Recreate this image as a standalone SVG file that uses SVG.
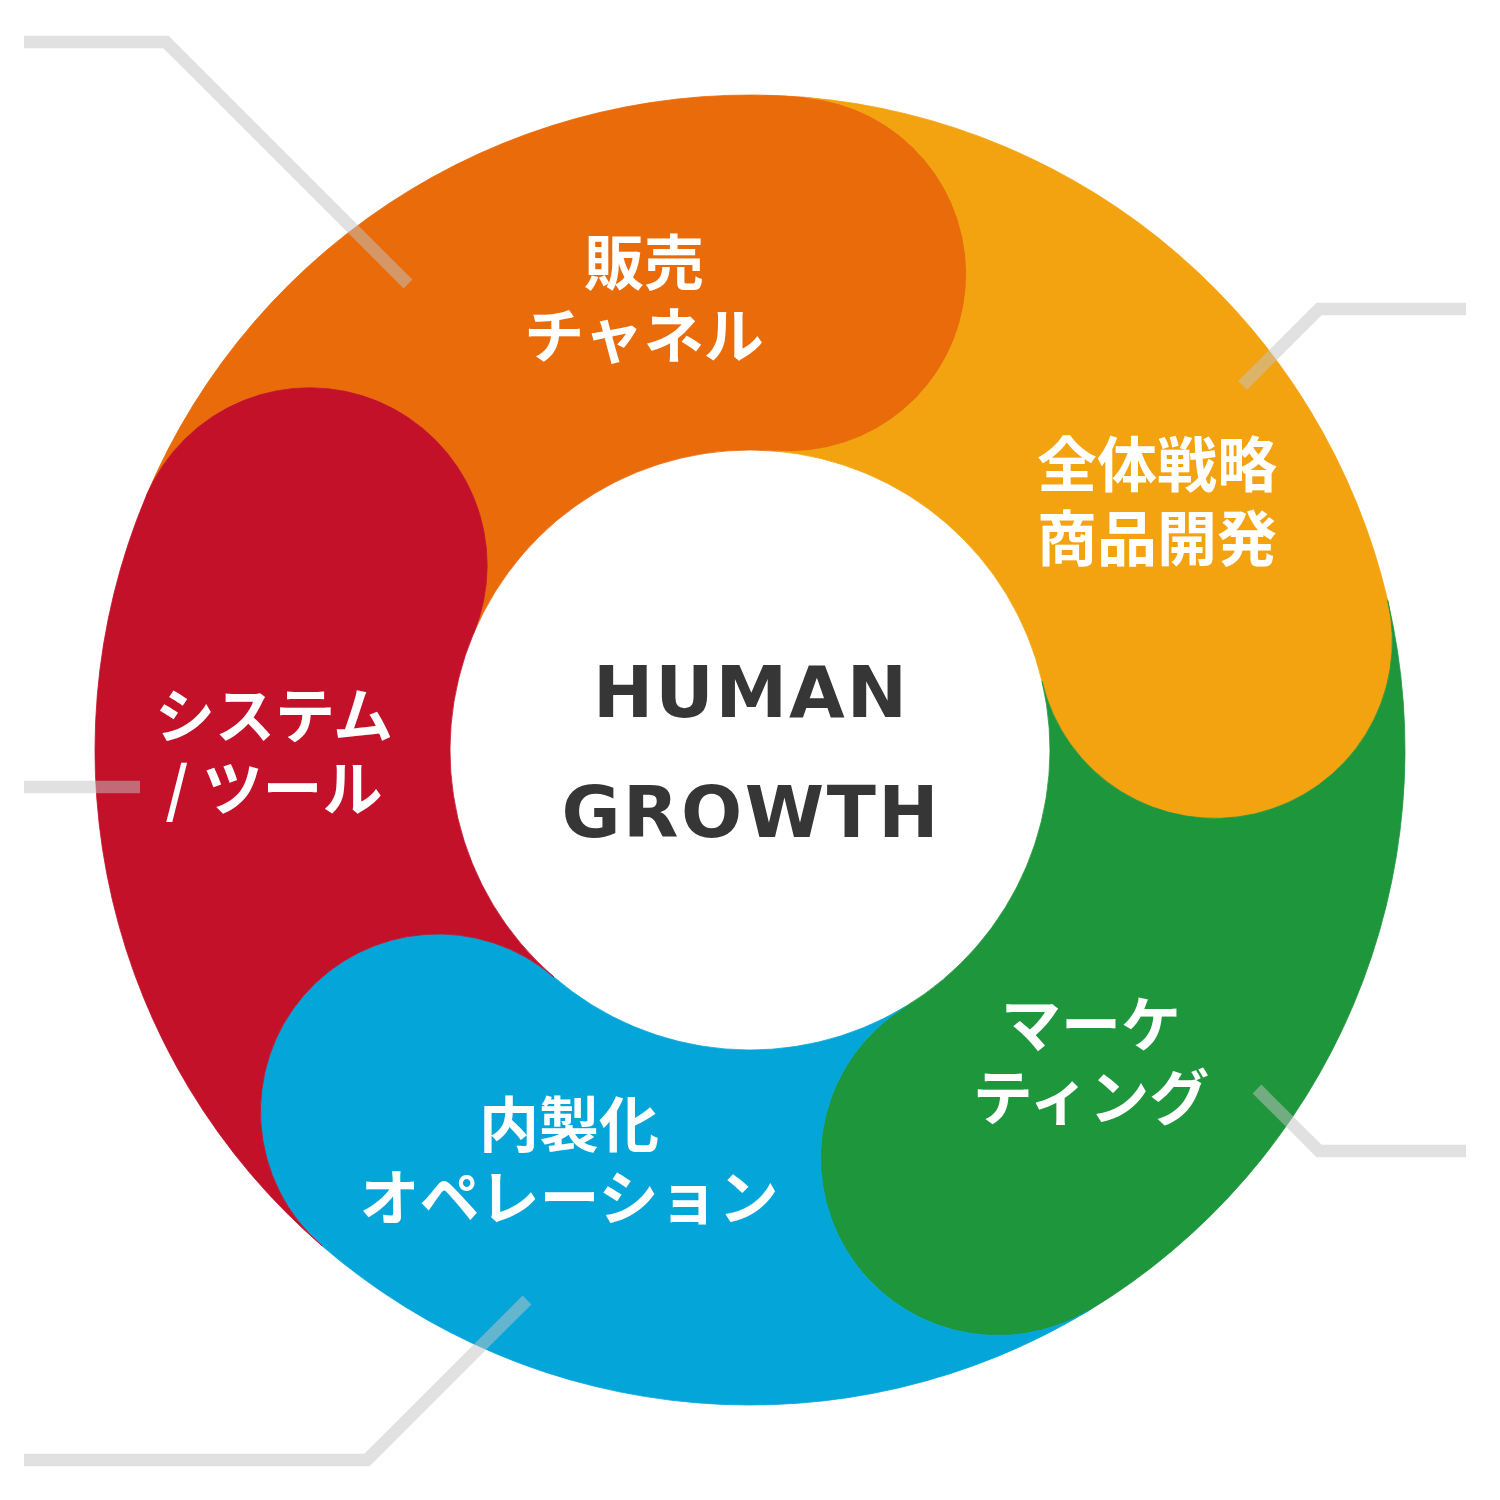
<svg xmlns="http://www.w3.org/2000/svg" width="1500" height="1500" viewBox="0 0 1500 1500">
<style>
.seg{stroke-width:0.8;stroke-linejoin:round}
.lbl{font-family:"Noto Sans CJK JP","Noto Sans",sans-serif;font-weight:700;font-size:60px;fill:#ffffff;text-anchor:middle}
.hub{font-family:"DejaVu Sans","Liberation Sans",sans-serif;font-weight:700;font-size:72px;fill:#363636;text-anchor:middle}
.ln{fill:none;stroke:#c3c3c3;stroke-opacity:0.5;stroke-width:12.5;stroke-linecap:butt;stroke-linejoin:miter}
</style>
<rect x="0" y="0" width="1500" height="1500" fill="#ffffff"/>
<g id="seg-sales">
<path class="seg" fill="#e96b0a" stroke="#e96b0a" d="M146.18,496.17 A655,655 0 0 1 804.81,97.30 A177.5,177.5 0 0 1 775.10,451.05 A300,300 0 0 0 473.44,633.74 A177.5,177.5 0 0 0 146.18,496.17 Z"/>
<text class="lbl" x="644" y="285">販売</text>
<text class="lbl" x="644" y="358">チャネル</text>
</g>
<g id="seg-strategy">
<path class="seg" fill="#f2a30f" stroke="#f2a30f" d="M804.81,97.30 A655,655 0 0 1 1387.70,600.43 A177.5,177.5 0 0 1 1042.07,681.50 A300,300 0 0 0 775.10,451.05 A177.5,177.5 0 0 0 804.81,97.30 Z"/>
<text class="lbl" x="1157" y="487">全体戦略</text>
<text class="lbl" x="1157" y="561">商品開発</text>
</g>
<g id="seg-marketing">
<path class="seg" fill="#1e963c" stroke="#1e963c" d="M1387.70,600.43 A655,655 0 0 1 1089.31,1310.26 A177.5,177.5 0 0 1 905.41,1006.61 A300,300 0 0 0 1042.07,681.50 A177.5,177.5 0 0 0 1387.70,600.43 Z"/>
<text class="lbl" x="1091" y="1047">マーケ</text>
<text class="lbl" x="1091" y="1120">ティング</text>
</g>
<g id="seg-operation">
<path class="seg" fill="#04a6d9" stroke="#04a6d9" d="M1089.31,1310.26 A655,655 0 0 1 322.01,1245.84 A177.5,177.5 0 0 1 553.97,977.10 A300,300 0 0 0 905.41,1006.61 A177.5,177.5 0 0 0 1089.31,1310.26 Z"/>
<text class="lbl" x="569" y="1147">内製化</text>
<text class="lbl" x="569" y="1220">オペレーション</text>
</g>
<g id="seg-system">
<path class="seg" fill="#c3112a" stroke="#c3112a" d="M322.01,1245.84 A655,655 0 0 1 146.18,496.17 A177.5,177.5 0 0 1 473.44,633.74 A300,300 0 0 0 553.97,977.10 A177.5,177.5 0 0 0 322.01,1245.84 Z"/>
<text class="lbl" x="274" y="738">システム</text>
<text class="lbl" x="274" y="811">/ ツール</text>
</g>
<g id="hub">
<text class="hub" x="750" y="717" textLength="314" lengthAdjust="spacing">HUMAN</text>
<text class="hub" x="750" y="837" textLength="377" lengthAdjust="spacing">GROWTH</text>
</g>
<g id="connectors">
<polyline class="ln" points="24,42 166,42 408,284"/>
<polyline class="ln" points="1466,309 1319,309 1242.5,385.5"/>
<polyline class="ln" points="24,787 140,787"/>
<polyline class="ln" points="1466,1151 1319,1151 1257,1089"/>
<polyline class="ln" points="24,1460 367,1460 527,1300"/>
</g>
</svg>
